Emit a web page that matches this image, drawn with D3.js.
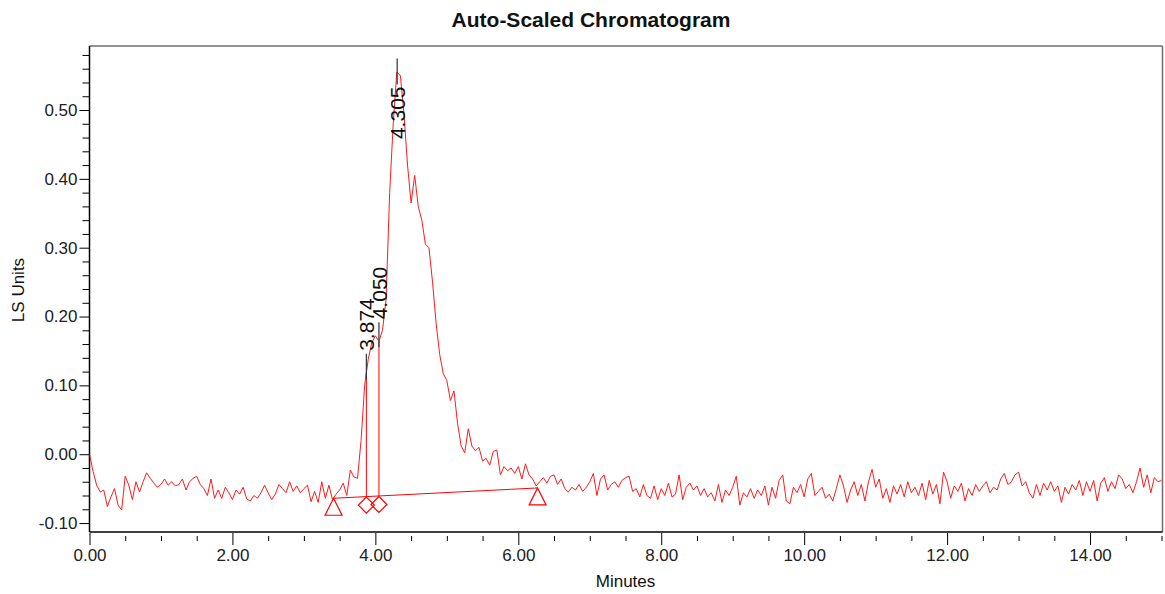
<!DOCTYPE html>
<html>
<head>
<meta charset="utf-8">
<script src="https://cdn.jsdelivr.net/npm/d3@7/dist/d3.min.js"></script>
<style>
  body { margin: 0; background: #fff; }
  svg text { font-family: Arial, "Liberation Sans", sans-serif; }
</style>
</head>
<body>
<div id="chart"></div>
<script>
// detector trace (LS Units), one reading every 0.05 min, one row per minute
var sampleStep = 0.05;
var signal = [
  0.000, -0.025, -0.045, -0.055, -0.052, -0.076, -0.062, -0.050, -0.074, -0.081, -0.032, -0.045, -0.066, -0.040, -0.055, -0.040, -0.027, -0.035, -0.042, -0.048,
  -0.044, -0.036, -0.045, -0.040, -0.046, -0.044, -0.036, -0.052, -0.040, -0.035, -0.032, -0.044, -0.050, -0.060, -0.036, -0.064, -0.052, -0.064, -0.048, -0.056,
  -0.066, -0.052, -0.058, -0.048, -0.065, -0.068, -0.060, -0.064, -0.056, -0.045, -0.056, -0.066, -0.058, -0.044, -0.050, -0.056, -0.040, -0.054, -0.046, -0.056,
  -0.050, -0.045, -0.069, -0.054, -0.070, -0.040, -0.064, -0.045, -0.066, -0.058, -0.052, -0.042, -0.060, -0.023, -0.033, -0.035, 0.020, 0.100, 0.138, 0.162,
  0.172, 0.164, 0.180, 0.225, 0.380, 0.480, 0.555, 0.550, 0.495, 0.420, 0.365, 0.405, 0.360, 0.340, 0.305, 0.300, 0.250, 0.190, 0.145, 0.117,
  0.107, 0.078, 0.092, 0.045, 0.012, 0.002, 0.037, 0.012, 0.005, 0.010, -0.010, -0.006, -0.016, 0.004, 0.006, -0.030, -0.018, -0.024, -0.020, -0.028,
  -0.018, -0.036, -0.014, -0.030, -0.036, -0.046, -0.040, -0.034, -0.042, -0.032, -0.030, -0.044, -0.036, -0.050, -0.055, -0.048, -0.052, -0.044, -0.054, -0.048,
  -0.040, -0.028, -0.060, -0.036, -0.030, -0.052, -0.044, -0.040, -0.048, -0.038, -0.034, -0.032, -0.054, -0.050, -0.062, -0.044, -0.060, -0.064, -0.046, -0.066,
  -0.050, -0.060, -0.042, -0.062, -0.058, -0.030, -0.066, -0.048, -0.042, -0.052, -0.046, -0.060, -0.050, -0.062, -0.056, -0.068, -0.044, -0.070, -0.052, -0.060,
  -0.048, -0.032, -0.074, -0.056, -0.062, -0.050, -0.064, -0.052, -0.060, -0.046, -0.074, -0.048, -0.064, -0.038, -0.030, -0.068, -0.072, -0.048, -0.056, -0.044,
  -0.062, -0.036, -0.028, -0.060, -0.054, -0.048, -0.064, -0.058, -0.068, -0.050, -0.030, -0.046, -0.070, -0.052, -0.040, -0.060, -0.044, -0.068, -0.040, -0.022,
  -0.048, -0.036, -0.064, -0.050, -0.070, -0.046, -0.058, -0.044, -0.062, -0.040, -0.056, -0.048, -0.060, -0.042, -0.066, -0.038, -0.058, -0.044, -0.072, -0.026,
  -0.040, -0.064, -0.046, -0.054, -0.042, -0.068, -0.050, -0.060, -0.044, -0.054, -0.046, -0.040, -0.056, -0.048, -0.052, -0.036, -0.028, -0.044, -0.040, -0.030,
  -0.026, -0.046, -0.040, -0.056, -0.064, -0.044, -0.060, -0.042, -0.052, -0.040, -0.054, -0.046, -0.070, -0.048, -0.058, -0.044, -0.052, -0.038, -0.060, -0.040,
  -0.054, -0.038, -0.068, -0.042, -0.034, -0.054, -0.040, -0.050, -0.030, -0.036, -0.050, -0.044, -0.056, -0.040, -0.020, -0.048, -0.030, -0.056, -0.034, -0.040,
  -0.038
];

// integration results
var peakTimes = [3.874, 4.050, 4.305];
var peakLabels = ["3.874", "4.050", "4.305"];
var dropTimes = [3.874, 4.050];           // drop lines between the fused peaks
var baselineTimes = [3.415, 6.270];       // start / end of the baseline
var baselineValues = [-0.064, -0.049];

// axis ticks
var xTicks = [0, 2, 4, 6, 8, 10, 12, 14];
var yTicks = [-0.10, 0.00, 0.10, 0.20, 0.30, 0.40, 0.50];

drawChart();

function drawChart() {
    var w = 1165, h = 594;
    var pl = 89.5, pr = 1161.5, pt = 46, pb = 532;   // plot frame

    var x = d3.scaleLinear().domain([0, 15]).range([pl, pr]);
    var y = d3.scaleLinear().domain([-0.113, 0.593]).range([pb, pt]);

    var fmt = function(d) { return d.toFixed(2); };

    var svg = d3.select("#chart")
        .append("svg")
        .attr("width", w)
        .attr("height", h);

    // title + axis names
    svg.append("text")
        .attr("x", 591)
        .attr("y", 27)
        .attr("text-anchor", "middle")
        .style("font-size", "21px")
        .style("font-weight", "bold")
        .style("fill", "#111")
        .text("Auto-Scaled Chromatogram");

    svg.append("text")
        .attr("transform", "translate(18, 290) rotate(-90)")
        .attr("text-anchor", "middle")
        .attr("dy", "0.35em")
        .style("font-size", "17px")
        .style("fill", "#111")
        .text("LS Units");

    svg.append("text")
        .attr("x", (pl + pr) / 2)
        .attr("y", 587)
        .attr("text-anchor", "middle")
        .style("font-size", "17px")
        .style("fill", "#111")
        .text("Minutes");

    // y axis: majors every 0.1, minors every 0.02
    var yMinor = d3.range(-5, 30).filter(function(i) { return i % 5 != 0; })
        .map(function(i) { return i * 0.02; })
        .filter(function(v) { return v > -0.113 && v < 0.593; });

    var gyMinor = svg.append("g")
        .attr("transform", "translate(" + pl + ",0)")
        .call(d3.axisLeft(y).tickValues(yMinor).tickSize(7).tickFormat(""));
    gyMinor.select(".domain").remove();

    var gy = svg.append("g")
        .attr("transform", "translate(" + pl + ",0)")
        .call(d3.axisLeft(y).tickValues(yTicks).tickSize(10).tickPadding(2).tickFormat(fmt));
    gy.select(".domain").remove();
    gy.selectAll("text").style("font-size", "17px").style("fill", "#222");

    // x axis: majors every 2 min, minors every 0.5 min, drawn just under the frame
    var xMinor = d3.range(1, 31).filter(function(i) { return i % 4 != 0; })
        .map(function(i) { return i * 0.5; });

    var gxMinor = svg.append("g")
        .attr("transform", "translate(0," + (pb + 4) + ")")
        .call(d3.axisBottom(x).tickValues(xMinor).tickSize(5).tickFormat(""));
    gxMinor.select(".domain").remove();

    var gx = svg.append("g")
        .attr("transform", "translate(0," + (pb + 1) + ")")
        .call(d3.axisBottom(x).tickValues(xTicks).tickSize(12).tickPadding(4).tickFormat(fmt));
    gx.select(".domain").remove();
    gx.selectAll("text").style("font-size", "17px").style("fill", "#222");

    svg.selectAll(".tick line").attr("stroke", "#000");

    // frame: grey top/right, black left/bottom
    svg.append("line").attr("x1", pl).attr("x2", pr + 1).attr("y1", pt).attr("y2", pt)
        .attr("stroke", "#6e6e6e").attr("stroke-width", 1.5);
    svg.append("line").attr("x1", pr + 1).attr("x2", pr + 1).attr("y1", pt).attr("y2", pb)
        .attr("stroke", "#6e6e6e").attr("stroke-width", 1.5);
    svg.append("line").attr("x1", pl).attr("x2", pl).attr("y1", pt).attr("y2", pb)
        .attr("stroke", "#000").attr("stroke-width", 1.5);
    svg.append("line").attr("x1", pl).attr("x2", pr + 1).attr("y1", pb).attr("y2", pb)
        .attr("stroke", "#000").attr("stroke-width", 1.5);

    // trace
    var points = signal.map(function(v, i) { return [i * sampleStep, v]; });

    function valueAt(t) {
        var i = Math.floor(t / sampleStep);
        var f = t / sampleStep - i;
        return signal[i] + (signal[i + 1] - signal[i]) * f;
    }
    function baselineAt(t) {
        var f = (t - baselineTimes[0]) / (baselineTimes[1] - baselineTimes[0]);
        return baselineValues[0] + (baselineValues[1] - baselineValues[0]) * f;
    }

    svg.append("clipPath").attr("id", "plotclip")
        .append("rect").attr("x", pl).attr("y", pt).attr("width", pr - pl).attr("height", pb - pt);

    var line = d3.line()
        .x(function(d) { return x(d[0]); })
        .y(function(d) { return y(d[1]); });

    svg.append("path")
        .datum(points)
        .attr("clip-path", "url(#plotclip)")
        .attr("d", line)
        .attr("fill", "none")
        .attr("stroke", "#ff1a1a")
        .attr("stroke-width", 1);

    // baseline and drop lines
    var red = "#ff0000";
    svg.append("line")
        .attr("x1", x(baselineTimes[0])).attr("y1", y(baselineValues[0]))
        .attr("x2", x(baselineTimes[1])).attr("y2", y(baselineValues[1]))
        .attr("stroke", red).attr("stroke-width", 1);

    svg.selectAll("line.drop")
        .data(dropTimes)
        .enter()
        .append("line")
        .attr("class", "drop")
        .attr("x1", function(d) { return x(d); })
        .attr("x2", function(d) { return x(d); })
        .attr("y1", function(d) { return y(baselineAt(d)); })
        .attr("y2", function(d) { return y(valueAt(d)); })
        .attr("stroke", red).attr("stroke-width", 1);

    // triangles at baseline start/end, diamonds at the drop lines
    svg.selectAll("path.tri")
        .data(baselineTimes)
        .enter()
        .append("path")
        .attr("class", "tri")
        .attr("d", function(d, i) {
            var px = x(d), py = y(baselineValues[i]);
            return "M" + px + "," + py + "L" + (px + 8.5) + "," + (py + 17) + "L" + (px - 8.5) + "," + (py + 17) + "Z";
        })
        .attr("fill", "none").attr("stroke", red).attr("stroke-width", 1.2);

    svg.selectAll("path.dia")
        .data(dropTimes)
        .enter()
        .append("path")
        .attr("class", "dia")
        .attr("d", function(d) {
            var px = x(d), py = y(baselineAt(d)) + 8.5;
            return "M" + px + "," + (py - 8) + "L" + (px + 8) + "," + py + "L" + px + "," + (py + 8) + "L" + (px - 8) + "," + py + "Z";
        })
        .attr("fill", "none").attr("stroke", red).attr("stroke-width", 1.2);

    // retention time labels
    peakTimes.forEach(function(t, i) {
        var px = x(t), py = y(valueAt(t));
        var below = py - 25 - 60 < pt;   // no room above the apex: put the label under it
        var y1 = below ? py - 14 : py + 6;
        var y2 = below ? py + 12 : py - 19;
        svg.append("line")
            .attr("x1", px).attr("x2", px).attr("y1", y1).attr("y2", y2)
            .attr("stroke", "#333").attr("stroke-width", 1.2);
        svg.append("text")
            .attr("transform", "translate(" + px + "," + (below ? y2 + 2 : y2 - 3) + ") rotate(-90)")
            .attr("text-anchor", below ? "end" : "start")
            .attr("dy", "0.36em")
            .style("font-size", "21px")
            .style("fill", "#111")
            .text(peakLabels[i]);
    });
}
</script>
</body>
</html>
